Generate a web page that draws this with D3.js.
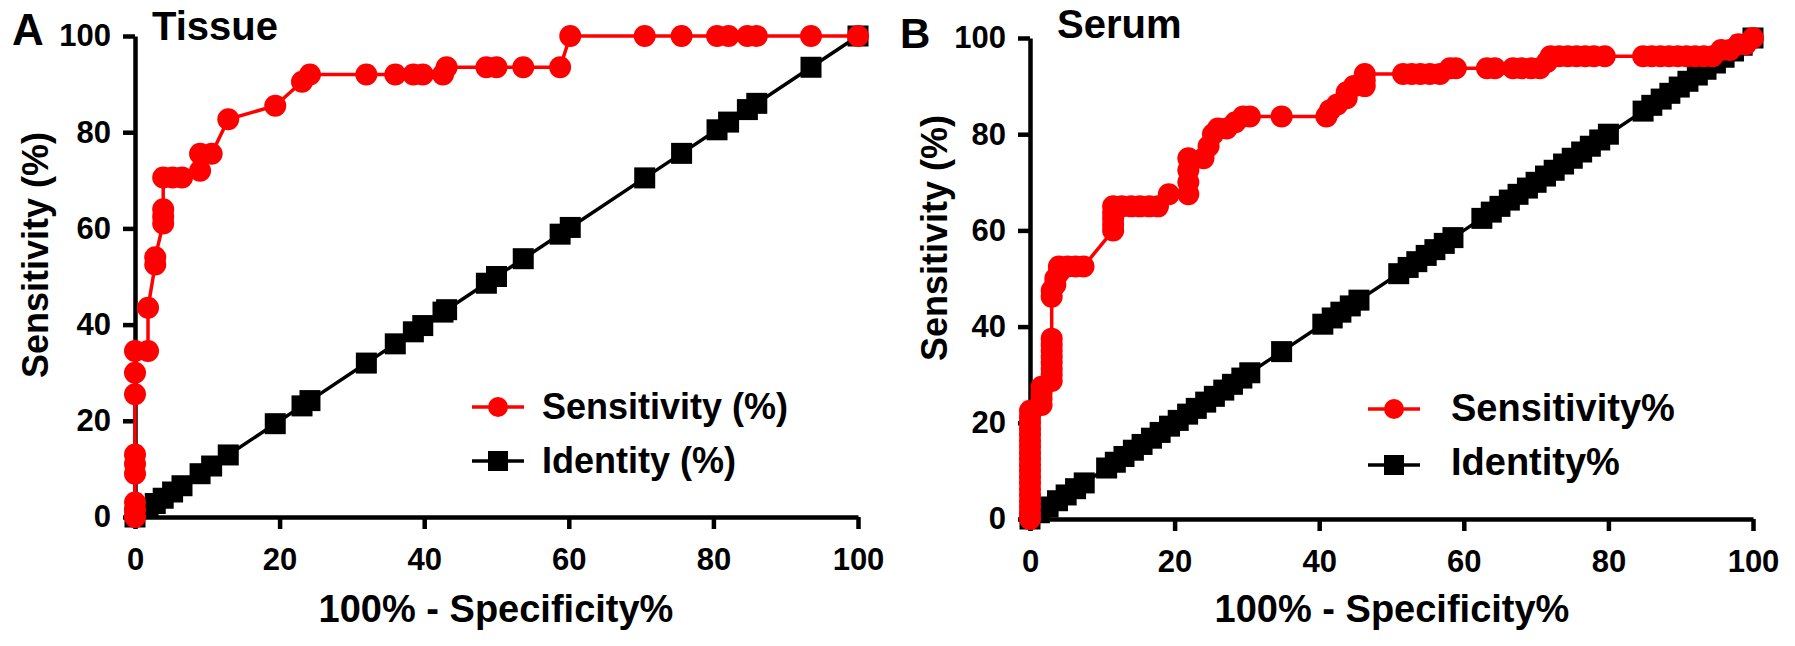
<!DOCTYPE html>
<html>
<head>
<meta charset="utf-8">
<script src="https://cdn.jsdelivr.net/npm/d3@7"></script>
<style>
  body { margin: 0; background: #fff; }
  svg { display: block; }
  text { font-family: 'Liberation Sans', Arial, sans-serif; font-weight: bold; fill: #000; }
</style>
</head>
<body>
<svg id="chart" width="1795" height="646"></svg>
<script>
// ---- data ----
const ticks = [0, 20, 40, 60, 80, 100];

// A: tissue
const tissueFpr  = [0, 0, 0, 0, 0, 0, 0, 0, 0, 1.8, 1.8, 2.8, 2.8, 3.9, 3.9, 3.9, 3.9, 5.2, 6.5, 9.0, 9.0, 10.6, 12.9, 19.4, 23.1, 24.2, 32.0, 36.0, 38.5, 39.8, 42.6, 43.1, 48.6, 50.0, 53.7, 58.8, 60.2, 70.5, 75.6, 80.5, 82.1, 84.7, 86.0, 93.5, 100];
const tissueSens = [0, 1.5, 3, 9, 11, 13, 25.5, 30, 34.5, 34.5, 43.5, 52.5, 54, 61, 62.5, 64, 70.6, 70.6, 70.6, 72, 75.5, 75.5, 82.7, 85.5, 90.5, 92, 92, 92, 92, 92, 92, 93.5, 93.5, 93.5, 93.5, 93.5, 100, 100, 100, 100, 100, 100, 100, 100, 100];
const tissueIdentity = [0, 1.8, 2.8, 3.9, 5.2, 6.5, 9.0, 10.6, 12.9, 19.4, 23.1, 24.2, 32.0, 36.0, 38.5, 39.8, 42.6, 43.1, 48.6, 50.0, 53.7, 58.8, 60.2, 70.5, 75.6, 80.5, 82.1, 84.7, 86.0, 93.5, 100];

// B: serum
const serumFpr  = [0, 0, 0, 0, 0, 0, 0, 0, 0, 0, 0, 0, 0, 0, 0, 0, 0, 0, 0,
  1.6, 1.6, 1.6, 1.6,
  3, 3, 3, 3, 3, 3, 3, 3, 3, 3, 3.5, 3.5, 4, 4, 5.2, 6.3, 7.4,
  11.5, 11.5, 11.5, 11.5, 11.5, 12.7, 14, 15.2, 16.5, 17.7, 19.2, 21.9, 21.9, 21.9, 21.9,
  24, 24.7, 25.3, 26, 27.2, 28.4, 29.5, 30.4, 34.8, 41, 41.5, 42.5, 43.8, 43.8, 44.8, 46.3, 46.3, 46.3,
  51.6, 52.8, 54, 55.3, 56.7, 58.1, 58.9, 63.2, 64.3, 66.8, 68, 69.3, 70.5, 71.5, 72, 73.2, 74.4, 75.6, 76.8, 78, 79.5,
  84.8, 86, 87.2, 88.4, 89.6, 90.8, 92, 93.2, 94.4, 95.6, 96.8, 98, 99, 100];
const serumSens = [0, 1.2, 2.5, 3.7, 5, 6.2, 7.5, 8.7, 10, 11.2, 12.5, 13.7, 15, 16.2, 17.5, 18.7, 20, 21.2, 22.5,
  23.7, 25, 26.2, 27.5,
  28.7, 30, 31.2, 32.5, 33.7, 35, 36.2, 37.5, 46.2, 47.5, 48.7, 50, 51.2, 52.5, 52.5, 52.5, 52.5,
  60, 61.2, 62.5, 63.7, 65, 65, 65, 65, 65, 65, 67.5, 67.5, 70, 72.5, 75,
  75, 77.5, 80, 81.2, 81.2, 82.5, 83.7, 83.7, 83.7, 83.7, 85, 86.2, 87.5, 88.7, 90, 90, 91.2, 92.5,
  92.5, 92.5, 92.5, 92.5, 92.5, 93.7, 93.7, 93.7, 93.7, 93.7, 93.7, 93.7, 93.7, 95, 96.2, 96.2, 96.2, 96.2, 96.2, 96.2, 96.2,
  96.2, 96.2, 96.2, 96.2, 96.2, 96.2, 96.2, 96.2, 96.2, 97.5, 97.5, 98.7, 98.7, 100];
const serumIdentity = [0, 1.3, 2.5, 3.8, 5, 6.3, 7.5,
  10.6, 11.8, 13, 14.3, 15.5, 16.8, 18, 19.3, 20.5, 21.8, 23, 24.3, 25.5, 26.8, 28, 29.3, 30.4,
  34.8, 40.5, 41.8, 43, 44.3, 45.5,
  51, 52.3, 53.5, 54.8, 56, 57.3, 58.5,
  62.5, 63.8, 65, 66.3, 67.5, 68.8, 70, 71.3, 72.5, 73.8, 75, 76.3, 77.5, 78.8, 80,
  84.8, 86, 87.3, 88.5, 89.8, 91, 92.3, 93.5, 94.8, 96, 97.3, 98.5, 100];

const xTitle = "100% - Specificity%";
const yTitle = "Sensitivity (%)";

// ---- layout ----
const panels = [
  { letter: "A", title: "Tissue", fpr: tissueFpr, sens: tissueSens, ident: tissueIdentity,
    x0: 135, x1: 858, y0: 517, y1: 36,
    letterPos: [12, 45, 44], titlePos: [152, 40],
    yLab: [48, 255], xLab: [496, 622],
    leg: { sx: 472, tx: 542, y: [407, 461], base: [419, 473], size: 36,
           labels: ["Sensitivity (%)", "Identity (%)"] } },
  { letter: "B", title: "Serum", fpr: serumFpr, sens: serumSens, ident: serumIdentity,
    x0: 1030, x1: 1753, y0: 519, y1: 38,
    letterPos: [900, 48, 42], titlePos: [1057, 38],
    yLab: [947, 238], xLab: [1392, 622],
    leg: { sx: 1368, tx: 1451, y: [409, 465], base: [421, 475], size: 38,
           labels: ["Sensitivity%", "Identity%"] } }
];

const svg = d3.select("#chart");
const RED = "#ff0000";

function square(g, cx, cy, s) {
  g.append("rect").attr("x", cx - s / 2).attr("y", cy - s / 2)
    .attr("width", s).attr("height", s).attr("fill", "#000");
}

panels.forEach(p => {
  const x = d3.scaleLinear().domain([0, 100]).range([p.x0, p.x1]);
  const y = d3.scaleLinear().domain([0, 100]).range([p.y0, p.y1]);
  const g = svg.append("g");

  // axes
  const ax = g.append("g").attr("transform", `translate(0,${p.y0})`)
    .call(d3.axisBottom(x).tickValues(ticks).tickSize(12).tickSizeOuter(0).tickPadding(19));
  const ay = g.append("g").attr("transform", `translate(${p.x0},0)`)
    .call(d3.axisLeft(y).tickValues(ticks).tickSize(12).tickSizeOuter(0).tickPadding(12));
  [ax, ay].forEach(a => {
    a.select(".domain").attr("stroke", "#000").attr("stroke-width", 4.5);
    a.selectAll(".tick line").attr("stroke", "#000").attr("stroke-width", 4.5);
    a.selectAll(".tick text").attr("font-size", 31).attr("font-family", null).attr("fill", "#000");
  });

  // identity
  const ident = p.ident.map(v => [v, v]);
  g.append("path").datum(ident)
    .attr("d", d3.line().x(d => x(d[0])).y(d => y(d[1])))
    .attr("fill", "none").attr("stroke", "#000").attr("stroke-width", 3.5);
  ident.forEach(d => square(g, x(d[0]), y(d[1]), 21));

  // sensitivity
  const roc = p.fpr.map((v, i) => [v, p.sens[i]]);
  g.append("path").datum(roc)
    .attr("d", d3.line().x(d => x(d[0])).y(d => y(d[1])))
    .attr("fill", "none").attr("stroke", RED).attr("stroke-width", 3.5);
  g.selectAll("circle.pt").data(roc).join("circle").attr("class", "pt")
    .attr("cx", d => x(d[0])).attr("cy", d => y(d[1])).attr("r", 11).attr("fill", RED);

  // texts
  g.append("text").attr("x", p.letterPos[0]).attr("y", p.letterPos[1])
    .attr("font-size", p.letterPos[2]).text(p.letter);
  g.append("text").attr("x", p.titlePos[0]).attr("y", p.titlePos[1])
    .attr("font-size", 40).text(p.title);
  g.append("text").attr("transform", `translate(${p.yLab[0]},${p.yLab[1]}) rotate(-90)`)
    .attr("text-anchor", "middle").attr("font-size", 36).text(yTitle);
  g.append("text").attr("x", p.xLab[0]).attr("y", p.xLab[1])
    .attr("text-anchor", "middle").attr("font-size", 38).text(xTitle);

  // legend
  const L = p.leg;
  [RED, "#000"].forEach((c, i) => {
    g.append("line").attr("x1", L.sx).attr("x2", L.sx + 52)
      .attr("y1", L.y[i]).attr("y2", L.y[i]).attr("stroke", c).attr("stroke-width", 3.5);
    if (i === 0) {
      g.append("circle").attr("cx", L.sx + 26).attr("cy", L.y[i]).attr("r", 10).attr("fill", RED);
    } else {
      square(g, L.sx + 26, L.y[i], 20);
    }
    g.append("text").attr("x", L.tx).attr("y", L.base[i])
      .attr("font-size", L.size).text(L.labels[i]);
  });
});
</script>
</body>
</html>
